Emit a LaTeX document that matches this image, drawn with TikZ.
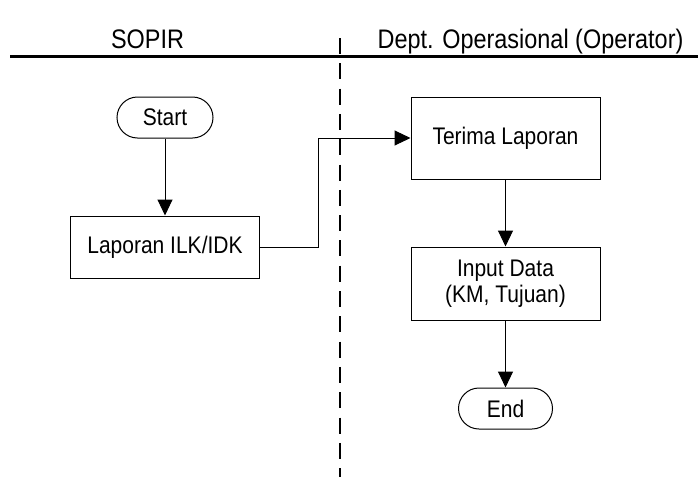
\documentclass[tikz,border=0pt]{standalone}
\usepackage{fontspec}
\setmainfont{Liberation Sans}
\newfontfamily\diafont[FakeStretch=0.875]{Liberation Sans}
\usetikzlibrary{arrows.meta}
\tikzset{
  headtext/.style={font=\diafont\fontsize{26.8}{30}\selectfont, anchor=base, inner sep=0pt},
  boxtext/.style={font=\diafont\fontsize{24}{26.5}\selectfont, align=center, inner sep=0pt},
  procbox/.style={boxtext, draw=black, line width=1pt, minimum width=189pt},
  termbox/.style={boxtext, draw=black, line width=1pt, rounded corners=20.5pt, minimum height=41pt},
  arr/.style={draw=black, line width=1pt, -{Triangle[length=16pt,width=15pt]}},
}
\begin{document}
\begin{tikzpicture}[x=1pt,y=-1pt]
\useasboundingbox (0,0) rectangle (698,477);
% lanes
\draw[line width=3pt] (10,56) -- (698,56);
\draw[line width=2pt, dash pattern=on 16pt off 9.3pt] (339.5,38) -- (339.5,477);
\node[headtext] (h1) at (147.5,48) {SOPIR};
\node[headtext] (h2) at (530.5,48) {Dept. Operasional (Operator)};
% nodes
\node[termbox, minimum width=96pt] (start) at (165,117.5) {Start};
\node[procbox, minimum height=62pt] (lap) at (165,247) {Laporan ILK/IDK};
\node[procbox, minimum height=82pt] (ter) at (505.5,138) {Terima Laporan};
\node[procbox, minimum height=73pt] (inp) at (505.5,283.5) {Input Data\\(KM, Tujuan)};
\node[termbox, minimum width=94pt] (end) at (505.5,408.5) {End};
% connectors
\draw[arr] (start) -- (lap);
\draw[arr] (lap.east) -- ++(58,0) |- (ter.west);
\draw[arr] (ter) -- (inp);
\draw[arr] (inp) -- (end);
\end{tikzpicture}
\end{document}
